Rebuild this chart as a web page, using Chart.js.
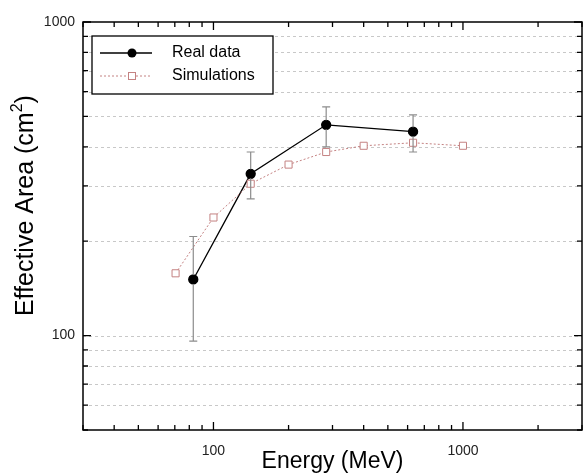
<!DOCTYPE html>
<html>
<head>
<meta charset="utf-8">
<script src="https://cdn.jsdelivr.net/npm/chart.js@4.4.1/dist/chart.umd.min.js"></script>
<style>
  html, body { margin: 0; padding: 0; background: #fff; }
  #wrap { width: 583px; height: 475px; }
</style>
</head>
<body>
<div id="wrap"><canvas id="chart" width="583" height="475"></canvas></div>
<script>
// Real data (filled circles) with vertical error bars
const realEnergy = [83, 141, 283, 631];
const realArea = [151, 328, 470, 447];
const realErrLow = [96, 273, 400, 385];
const realErrHigh = [207, 385, 536, 506];

// Simulations (open squares)
const simEnergy = [70.5, 100, 141, 200, 283, 400, 631, 1000];
const simArea = [158, 238, 305, 351, 385, 403, 412, 403];

// Axis ticks
const xTicks = [30, 40, 50, 60, 70, 80, 90, 100, 200, 300, 400, 500, 600, 700, 800, 900, 1000, 2000, 3000];
const yTicks = [50, 60, 70, 80, 90, 100, 200, 300, 400, 500, 600, 700, 800, 900, 1000];
const xLabels = [100, 1000];
const yLabels = [100, 1000];

const FONT = "'Liberation Sans', Arial, sans-serif";
const SIM_COLOR = 'rgb(196, 130, 130)';

const toPoints = (xs, ys) => xs.map((x, i) => ({ x, y: ys[i] }));

// grid, inward ticks and the frame, drawn from the scales
const framePlugin = {
  id: 'frame',
  beforeDatasetsDraw(chart) {
    const { ctx, chartArea: a, scales: { y } } = chart;
    ctx.save();
    ctx.strokeStyle = '#c8c8c8';
    ctx.lineWidth = 1;
    ctx.setLineDash([3, 3]);
    yTicks.forEach(v => {
      if (v === yTicks[0] || v === yTicks[yTicks.length - 1]) return;
      const py = Math.round(y.getPixelForValue(v)) + 0.5;
      ctx.beginPath();
      ctx.moveTo(a.left, py);
      ctx.lineTo(a.right, py);
      ctx.stroke();
    });
    ctx.restore();
  },
  afterDraw(chart) {
    const { ctx, chartArea: a, scales: { x, y } } = chart;
    ctx.save();
    ctx.strokeStyle = '#000';
    ctx.lineWidth = 1.5;
    ctx.strokeRect(a.left, a.top, a.right - a.left, a.bottom - a.top);
    ctx.lineWidth = 1.3;
    xTicks.forEach(v => {
      const px = x.getPixelForValue(v);
      const len = xLabels.includes(v) ? 8 : 5;
      ctx.beginPath();
      ctx.moveTo(px, a.bottom);
      ctx.lineTo(px, a.bottom - len);
      ctx.moveTo(px, a.top);
      ctx.lineTo(px, a.top + len);
      ctx.stroke();
    });
    yTicks.forEach(v => {
      const py = y.getPixelForValue(v);
      const len = yLabels.includes(v) ? 8 : 5;
      ctx.beginPath();
      ctx.moveTo(a.left, py);
      ctx.lineTo(a.left + len, py);
      ctx.moveTo(a.right, py);
      ctx.lineTo(a.right - len, py);
      ctx.stroke();
    });

    // y title with a real superscript
    const cy = a.top + (a.bottom - a.top) * 0.45;
    ctx.translate(26, cy);
    ctx.rotate(-Math.PI / 2);
    ctx.fillStyle = '#000';
    ctx.textBaseline = 'middle';
    const big = '25px ' + FONT, small = '16px ' + FONT;
    ctx.font = big;
    const w1 = ctx.measureText('Effective Area (cm').width;
    const w3 = ctx.measureText(')').width;
    ctx.font = small;
    const w2 = ctx.measureText('2').width;
    let tx = -(w1 + w2 + w3) / 2;
    ctx.font = big;
    ctx.fillText('Effective Area (cm', tx, 0);
    tx += w1;
    ctx.font = small;
    ctx.fillText('2', tx, -8);
    tx += w2;
    ctx.font = big;
    ctx.fillText(')', tx, 0);
    ctx.restore();
  }
};

// vertical error bars for the real data
const errorBarPlugin = {
  id: 'errorBars',
  afterDatasetsDraw(chart) {
    const { ctx, scales: { x, y } } = chart;
    ctx.save();
    ctx.strokeStyle = '#8c8c8c';
    ctx.lineWidth = 1.2;
    realEnergy.forEach((e, i) => {
      const px = x.getPixelForValue(e);
      const top = y.getPixelForValue(realErrHigh[i]);
      const bot = y.getPixelForValue(realErrLow[i]);
      ctx.beginPath();
      ctx.moveTo(px, top);
      ctx.lineTo(px, bot);
      ctx.moveTo(px - 4, top);
      ctx.lineTo(px + 4, top);
      ctx.moveTo(px - 4, bot);
      ctx.lineTo(px + 4, bot);
      ctx.stroke();
    });
    // redraw the real markers above the bars
    const meta = chart.getDatasetMeta(1);
    ctx.fillStyle = '#000';
    meta.data.forEach(pt => {
      ctx.beginPath();
      ctx.arc(pt.x, pt.y, 4.5, 0, Math.PI * 2);
      ctx.fill();
    });
    ctx.restore();
  }
};

// boxed legend in the upper-left of the plot
const boxLegendPlugin = {
  id: 'boxLegend',
  afterDraw(chart) {
    const { ctx, chartArea: a } = chart;
    const bx = a.left + 9, by = a.top + 14, bw = 181, bh = 58;
    ctx.save();
    ctx.fillStyle = '#fff';
    ctx.fillRect(bx, by, bw, bh);
    ctx.strokeStyle = '#000';
    ctx.lineWidth = 1.3;
    ctx.strokeRect(bx, by, bw, bh);

    const l0 = bx + 8, l1 = bx + 60, mx = bx + 40;
    const r1 = by + 17, r2 = by + 40;
    ctx.lineWidth = 1.3;
    ctx.beginPath();
    ctx.moveTo(l0, r1);
    ctx.lineTo(l1, r1);
    ctx.stroke();
    ctx.fillStyle = '#000';
    ctx.beginPath();
    ctx.arc(mx, r1, 4.5, 0, Math.PI * 2);
    ctx.fill();

    ctx.strokeStyle = SIM_COLOR;
    ctx.lineWidth = 1;
    ctx.setLineDash([2, 2]);
    ctx.beginPath();
    ctx.moveTo(l0, r2);
    ctx.lineTo(l1, r2);
    ctx.stroke();
    ctx.setLineDash([]);
    ctx.fillStyle = '#fff';
    ctx.fillRect(mx - 3.5, r2 - 3.5, 7, 7);
    ctx.strokeRect(mx - 3.5, r2 - 3.5, 7, 7);

    ctx.fillStyle = '#000';
    ctx.font = '16px ' + FONT;
    ctx.textBaseline = 'middle';
    ctx.fillText('Real data', bx + 80, r1);
    ctx.fillText('Simulations', bx + 80, r2);
    ctx.restore();
  }
};

new Chart(document.getElementById('chart'), {
  type: 'line',
  data: {
    datasets: [
      {
        label: 'Simulations',
        data: toPoints(simEnergy, simArea),
        borderColor: SIM_COLOR,
        borderWidth: 1,
        borderDash: [2, 2],
        pointStyle: 'rect',
        pointRadius: 5,
        pointBackgroundColor: '#fff',
        pointBorderColor: SIM_COLOR,
        pointBorderWidth: 1,
        tension: 0
      },
      {
        label: 'Real data',
        data: toPoints(realEnergy, realArea),
        borderColor: '#000',
        borderWidth: 1.3,
        pointRadius: 4.5,
        pointBackgroundColor: '#000',
        pointBorderColor: '#000',
        tension: 0
      }
    ]
  },
  options: {
    responsive: false,
    animation: false,
    layout: { autoPadding: false, padding: { top: 22, right: 1, left: 0, bottom: 0 } },
    plugins: {
      legend: { display: false },
      tooltip: { enabled: false }
    },
    scales: {
      x: {
        type: 'logarithmic',
        min: 30,
        max: 3000,
        afterBuildTicks: s => { s.ticks = xTicks.map(v => ({ value: v })); },
        afterFit: s => { s.height = 45; s.paddingLeft = 0; s.paddingRight = 0; },
        grid: { display: false, drawTicks: false },
        border: { display: false },
        ticks: {
          autoSkip: false,
          maxRotation: 0,
          padding: 13,
          color: '#222',
          font: { family: FONT, size: 14 },
          callback: v => xLabels.includes(v) ? String(v) : ''
        },
        title: {
          display: true,
          text: 'Energy (MeV)',
          color: '#000',
          font: { family: FONT, size: 23 },
          padding: { top: 0, bottom: 0 }
        }
      },
      y: {
        type: 'logarithmic',
        min: 50,
        max: 1000,
        afterBuildTicks: s => { s.ticks = yTicks.map(v => ({ value: v })); },
        afterFit: s => { s.width = 83; s.paddingTop = 0; s.paddingBottom = 0; },
        grid: { display: false, drawTicks: false },
        border: { display: false },
        ticks: {
          autoSkip: false,
          padding: 8,
          color: '#222',
          font: { family: FONT, size: 14 },
          callback: v => yLabels.includes(v) ? String(v) : ''
        },
        title: { display: false }
      }
    }
  },
  plugins: [framePlugin, errorBarPlugin, boxLegendPlugin]
});
</script>
</body>
</html>
